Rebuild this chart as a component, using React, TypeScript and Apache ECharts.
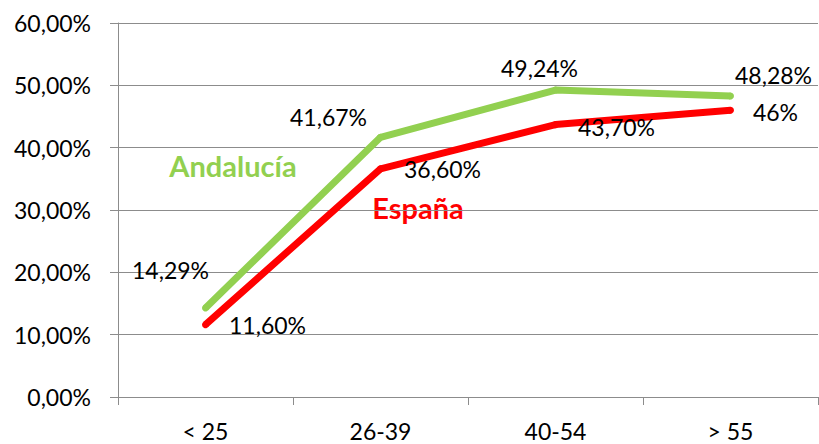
import React, { useEffect, useRef } from "react";
import * as echarts from "echarts";

const categories = ["< 25", "26-39", "40-54", "> 55"];
const andaluciaValues = [14.29, 41.67, 49.24, 48.28];
const espanaValues = [11.6, 36.6, 43.7, 46];
const andaluciaLabels = ["14,29%", "41,67%", "49,24%", "48,28%"];
const espanaLabels = ["11,60%", "36,60%", "43,70%", "46%"];
const yTicks = [0, 10, 20, 30, 40, 50, 60];

const andaluciaOffsets = [[-35, -38], [-52, -20], [-16, -22], [43, -21]];
const espanaOffsets = [[62, 0], [62, 0], [61, 2], [45, 2]];

const FONT = "Lato, 'Open Sans', sans-serif";

export default function App() {
  const ref = useRef<HTMLDivElement>(null);
  useEffect(() => {
    document.body.style.margin = "0";
    const chart = echarts.init(ref.current!, null, { renderer: "svg" });
    const mk = (vals: number[], labels: string[], offs: number[][]) =>
      vals.map((v, i) => ({
        value: v,
        label: {
          show: true,
          position: "inside",
          offset: offs[i],
          formatter: labels[i],
        },
      }));
    chart.setOption({
      animation: false,
      backgroundColor: "#ffffff",
      grid: { left: 118, right: 1, top: 23, bottom: 47, containLabel: false },
      xAxis: {
        type: "category",
        data: categories,
        boundaryGap: true,
        axisLine: { show: true, lineStyle: { color: "#8c8c8c", width: 1 } },
        axisTick: { show: true, length: 8, lineStyle: { color: "#8c8c8c" } },
        axisLabel: { fontFamily: FONT, fontSize: 23, color: "#000", margin: 22 },
      },
      yAxis: {
        type: "value",
        min: 0,
        max: 60,
        interval: 10,
        axisLine: { show: true, lineStyle: { color: "#8c8c8c", width: 1 } },
        axisTick: { show: true, length: 8, lineStyle: { color: "#8c8c8c" } },
        splitLine: { show: true, lineStyle: { color: "#8c8c8c", width: 1 } },
        axisLabel: {
          fontFamily: FONT,
          fontSize: 23,
          color: "#000",
          margin: 27,
          formatter: (v: number) =>
            yTicks.includes(v) ? v.toFixed(2).replace(".", ",") + "%" : "",
        },
      },
      series: [
        {
          name: "Andalucía",
          type: "line",
          data: mk(andaluciaValues, andaluciaLabels, andaluciaOffsets),
          symbol: "circle",
          symbolSize: 7,
          itemStyle: { color: "#92D050" },
          lineStyle: { color: "#92D050", width: 7 },
          label: { fontFamily: FONT, fontSize: 23, color: "#000" },
          z: 3,
        },
        {
          name: "España",
          type: "line",
          data: mk(espanaValues, espanaLabels, espanaOffsets),
          symbol: "circle",
          symbolSize: 7,
          itemStyle: { color: "#FF0000" },
          lineStyle: { color: "#FF0000", width: 7 },
          label: { fontFamily: FONT, fontSize: 23, color: "#000" },
          z: 4,
        },
      ],
      graphic: [
        {
          type: "text",
          x: 233,
          y: 165,
          style: {
            text: "Andalucía",
            fill: "#92D050",
            font: "bold 29px " + FONT,
            align: "center",
            verticalAlign: "middle",
          },
        },
        {
          type: "text",
          x: 418,
          y: 207,
          style: {
            text: "España",
            fill: "#FF0000",
            font: "bold 29px " + FONT,
            align: "center",
            verticalAlign: "middle",
          },
        },
      ],
    });
    return () => chart.dispose();
  }, []);
  return <div ref={ref} style={{ width: 819, height: 444 }} />;
}
